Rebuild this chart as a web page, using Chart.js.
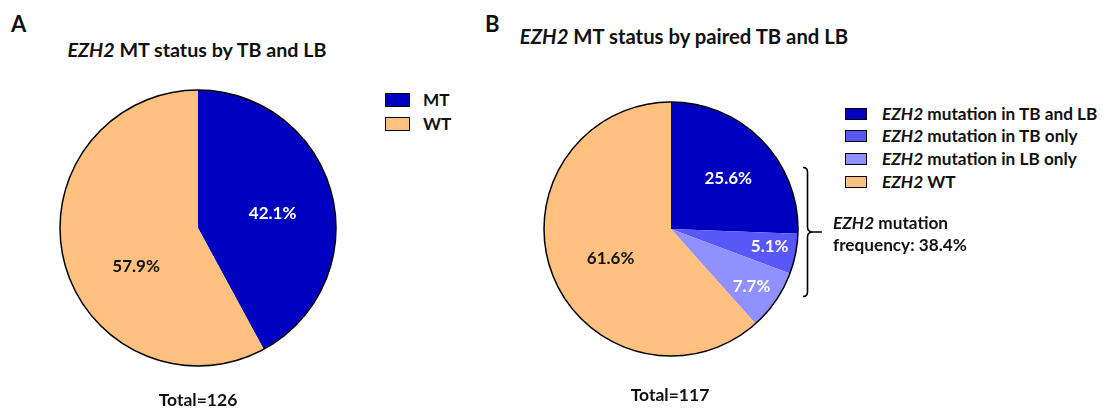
<!DOCTYPE html>
<html>
<head>
<meta charset="utf-8">
<script src="https://cdn.jsdelivr.net/npm/chart.js@4.4.1/dist/chart.umd.min.js"></script>
<style>
  body { margin: 0; background: #fff; font-family: Lato, "Open Sans", sans-serif; }
  #page { position: relative; width: 1104px; height: 410px; overflow: hidden; }
  .abs { position: absolute; white-space: nowrap; font-weight: bold; color: #111; }
  .panel { font-size: 22px; line-height: 22px; }
  .title { font-size: 19.7px; line-height: 19.7px; }
  .titleB { font-size: 20.3px; line-height: 20.3px; }
  .leg { font-size: 17.2px; line-height: 17.2px; }
  .box { position: absolute; border: 1.5px solid #000; box-sizing: border-box; }
  .total { font-size: 17.5px; line-height: 17.5px; transform: translateX(-50%); }
  canvas { position: absolute; }
  i { font-weight: bold; }
</style>
</head>
<body>
<div id="page">
  <div class="abs panel" style="left:11px; top:13px;">A</div>
  <div class="abs panel" style="left:485px; top:13px;">B</div>
  <div class="abs title" style="left:197px; top:40px; transform:translateX(-50%);"><i>EZH2</i> MT status by TB and LB</div>
  <div class="abs titleB" style="left:684px; top:26px; transform:translateX(-50%);"><i>EZH2</i> MT status by paired TB and LB</div>

  <canvas id="pieA" width="282" height="282" style="left:57px; top:87px;"></canvas>
  <canvas id="pieB" width="260" height="260" style="left:541px; top:99px;"></canvas>

  <div id="legendA"></div>
  <div id="legendB"></div>

  <svg class="abs" style="left:0; top:0;" width="1104" height="410">
    <path d="M803,167.5 Q807.5,167.5 807.5,172 L807.5,227 Q807.5,232 813,232 L822,232 M813,232 Q807.5,232 807.5,237 L807.5,292 Q807.5,296.5 803,296.5" fill="none" stroke="#000" stroke-width="1.6"/>
  </svg>
  <div class="abs leg" style="left:833px; top:214px;"><i>EZH2</i> mutation</div>
  <div class="abs leg" style="left:833px; top:236px;">frequency: 38.4%</div>

  <div class="abs total" style="left:198px; top:391px;">Total=126</div>
  <div class="abs total" style="left:670px; top:386px;">Total=117</div>
</div>

<script>
// panel A
const labelsA = ["MT", "WT"];
const valuesA = [42.1, 57.9];
const colorsA = ["#0000c0", "#ffc080"];

// panel B
const labelsB = ["mutation in TB and LB", "mutation in TB only", "mutation in LB only", "WT"];
const valuesB = [25.6, 5.1, 7.7, 61.6];
const colorsB = ["#0000c0", "#5858f8", "#9090ff", "#ffc080"];

const totalA = 126;
const totalB = 117;

// draws the % labels inside the slices and the black rim round the pie
const sliceLabels = {
    id: "sliceLabels",
    afterDatasetsDraw(chart, args, opts) {
        const ctx = chart.ctx;
        const meta = chart.getDatasetMeta(0);
        const values = chart.data.datasets[0].data;
        ctx.save();
        ctx.font = "bold 17px Lato, 'Open Sans', sans-serif";
        ctx.textAlign = "center";
        ctx.textBaseline = "middle";
        meta.data.forEach((arc, i) => {
            const p = arc.getProps(["x", "y", "startAngle", "endAngle", "outerRadius"], true);
            const a = (p.startAngle + p.endAngle) / 2 + opts.shift[i] * Math.PI / 180;
            const r = p.outerRadius * opts.radius[i];
            ctx.fillStyle = opts.colors[i];
            ctx.fillText(values[i].toFixed(1) + "%", p.x + Math.cos(a) * r, p.y + Math.sin(a) * r);
        });
        const first = meta.data[0];
        ctx.beginPath();
        ctx.arc(first.x, first.y, first.outerRadius, 0, Math.PI * 2);
        ctx.lineWidth = 1.5;
        ctx.strokeStyle = "#000";
        ctx.stroke();
        ctx.restore();
    }
};

function makePie(id, labels, values, colors, radius, labelOpts) {
    new Chart(id, {
        type: "pie",
        data: {
            labels: labels,
            datasets: [{
                data: values,
                backgroundColor: colors,
                borderWidth: 0
            }]
        },
        options: {
            responsive: false,
            animation: false,
            radius: radius,
            layout: {padding: 0},
            plugins: {
                legend: {display: false},
                tooltip: {enabled: false},
                sliceLabels: labelOpts
            }
        },
        plugins: [sliceLabels]
    });
}

// rows are placed by the vertical centre of their box
function makeLegend(id, labels, colors, boxLeft, boxW, boxH, textLeft, firstY, step, italic) {
    const el = document.getElementById(id);
    labels.forEach((lab, i) => {
        const cy = firstY + i * step;
        const box = document.createElement("div");
        box.className = "box";
        box.style.cssText = "left:" + boxLeft + "px;top:" + (cy - boxH / 2) + "px;width:" + boxW +
            "px;height:" + boxH + "px;background:" + colors[i];
        el.appendChild(box);
        const txt = document.createElement("div");
        txt.className = "abs leg";
        txt.style.left = textLeft + "px";
        txt.style.top = (cy - 9) + "px";
        txt.innerHTML = (italic ? "<i>EZH2</i> " : "") + lab;
        el.appendChild(txt);
    });
}

makePie("pieA", labelsA, valuesA, colorsA, 138, {
    shift: [3.6, -18],
    radius: [0.55, 0.53],
    colors: ["#fff", "#111"]
});
makePie("pieB", labelsB, valuesB, colorsB, 127, {
    shift: [2.6, -1, 1.2, -5.3],
    radius: [0.6, 0.79, 0.78, 0.53],
    colors: ["#fff", "#fff", "#fff", "#111"]
});

makeLegend("legendA", labelsA, colorsA, 385, 25, 14, 423, 100, 24, false);
makeLegend("legendB", labelsB, colorsB, 845, 22, 12, 882, 113.5, 22.8, true);
</script>
</body>
</html>
